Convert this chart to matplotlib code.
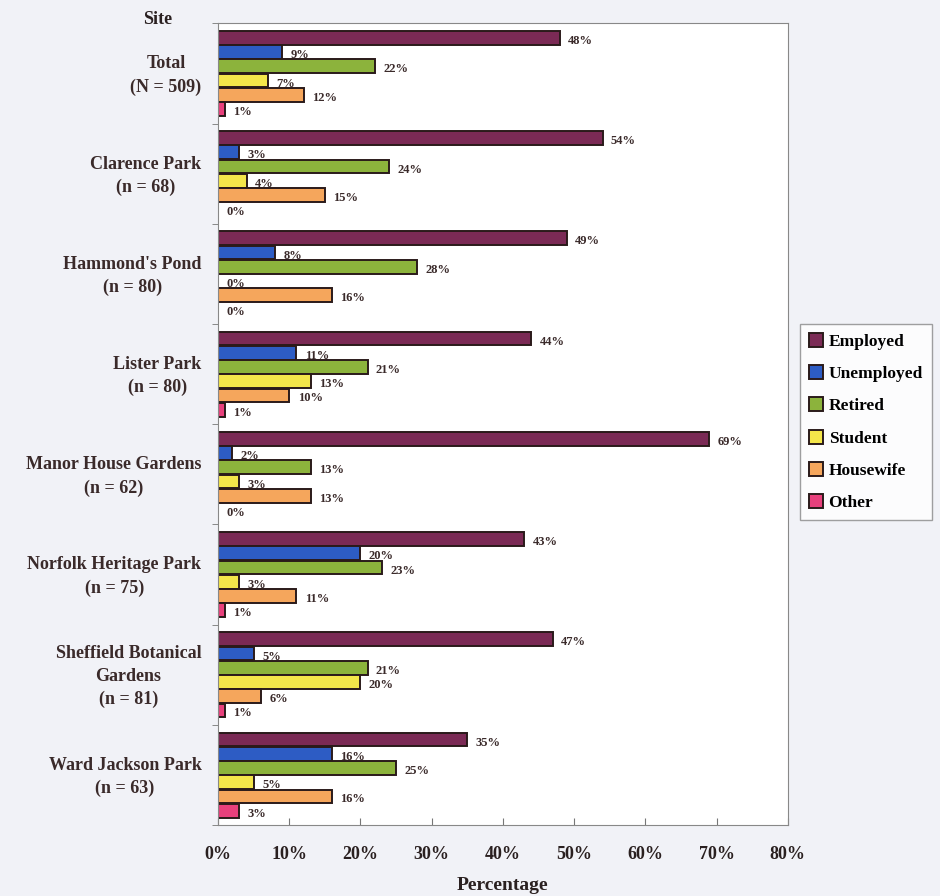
import matplotlib.pyplot as plt
import numpy as np

sites = ['Total\n(N = 509)', 'Clarence Park\n(n = 68)', "Hammond's Pond\n(n = 80)",
         'Lister Park\n(n = 80)', 'Manor House Gardens\n(n = 62)',
         'Norfolk Heritage Park\n(n = 75)', 'Sheffield Botanical\nGardens\n(n = 81)',
         'Ward Jackson Park\n(n = 63)']
categories = ['Employed', 'Unemployed', 'Retired', 'Student', 'Housewife', 'Other']

employed = [48, 54, 49, 44, 69, 43, 47, 35]
unemployed = [9, 3, 8, 11, 2, 20, 5, 16]
retired = [22, 24, 28, 21, 13, 23, 21, 25]
student = [7, 4, 0, 13, 3, 3, 20, 5]
housewife = [12, 15, 16, 10, 13, 11, 6, 16]
other = [1, 0, 0, 1, 0, 1, 1, 3]

colors = ['#7b2a55', '#2d5cc4', '#8cb33c', '#f4e64a', '#f5a65c', '#e8407c']
series = [employed, unemployed, retired, student, housewife, other]

plt.rcParams['font.family'] = ['Liberation Serif', 'DejaVu Serif']
plt.rcParams['font.weight'] = 'bold'
txt = '#2a2020'

fig = plt.figure(figsize=(9.4, 8.96), dpi=100, facecolor='#f1f2f7')
ax = fig.add_axes([0.232, 0.079, 0.606, 0.895])
ax.set_facecolor('white')

n_sites = len(sites)
bar_h = 0.142
y = np.arange(n_sites)
for i, (vals, col) in enumerate(zip(series, colors)):
    pos = y - 0.355 + i * bar_h
    ax.barh(pos, vals, height=bar_h * 0.96, color=col, edgecolor='#2a1a1a', linewidth=1.4)
    for p, v in zip(pos, vals):
        ax.annotate(f'{v}%', (v, p + 0.03), xytext=(6, 0), textcoords='offset points',
                    va='center', ha='left', fontsize=9, fontweight='bold', color='#3a2a2a')

ax.set_xlim(0, 80)
ax.set_ylim(n_sites - 0.5, -0.5)
ax.set_xticks(np.arange(0, 81, 10))
ax.set_xticklabels([f'{t}%' for t in range(0, 81, 10)], fontsize=13, fontweight='bold')
ax.tick_params(axis='x', direction='in', length=5, pad=15, color='#777777', labelcolor=txt)
ax.set_yticks(y - 0.03)
ax.set_yticklabels(sites, fontsize=13, fontweight='bold', ha='right', multialignment='center',
                   color='#3a2a2a', linespacing=1.45)
ax.tick_params(axis='y', length=0, pad=12)
ax.set_yticks(np.arange(-0.5, n_sites, 1), minor=True)
ax.tick_params(axis='y', which='minor', length=4, direction='out', color='#777777')
for s in ax.spines.values():
    s.set_color('#888888')

ax.set_xlabel('Percentage', fontsize=14, fontweight='bold', labelpad=10, color=txt)
fig.text(0.168, 0.978, 'Site', fontsize=13, fontweight='bold', ha='center', va='center',
         color=txt)

handles = [plt.Rectangle((0, 0), 1, 1, facecolor=c, edgecolor='#2a1a1a', linewidth=1.4)
           for c in colors]
leg = fig.legend(handles, categories, loc='center left', bbox_to_anchor=(0.851, 0.529),
                 borderaxespad=0, fontsize=12.5, frameon=True, fancybox=False,
                 edgecolor='#888888', handlelength=0.85, handleheight=0.85,
                 handletextpad=0.3, labelspacing=0.88, borderpad=0.5)
leg.get_frame().set_linewidth(1)

fig.savefig('out.png', dpi=100, facecolor=fig.get_facecolor())
